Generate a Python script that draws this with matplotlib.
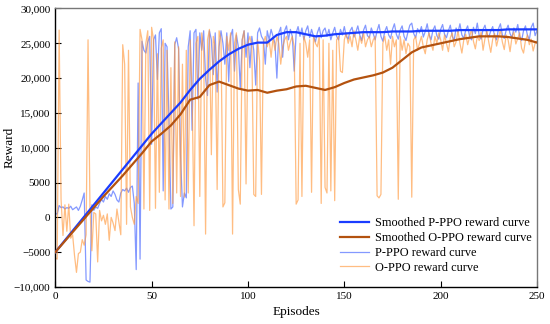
import matplotlib
matplotlib.use("Agg")
import matplotlib.pyplot as plt
from matplotlib.ticker import FuncFormatter
import numpy as np

plt.rcParams['font.family'] = ['Liberation Serif', 'DejaVu Serif']

# ---- data (values in thousands of reward) ----
episodes = list(range(0, 251))
smooth_episodes = list(range(0, 251, 5))

p_raw_k = [
    0.5, 0.5, 1.7, 1.4, 1.5, 1.2, 1.4, 1.3, 1.6, 1.1, 1.3, 1.5, 1.0, 1.6, 2.5, 3.5, -9.0, -9.2, -9.3, 1.8,
    1.0, 1.5, 1.3, 2.0, 2.6, 2.2, 3.0, 2.6, 3.4, 3.0, 3.8, 3.3, 2.5, 2.2, 3.5, 4.0, 3.8, 4.2, 3.6, 4.3,
    4.5, 2.0, -7.5, 19.3, -6.0, 25.3, 24.0, 23.6, 25.2, 26.0, 10.5, 25.5, 26.2, 19.8, 26.5, 27.1, 3.8, 25.0, 24.5, 14.0,
    1.2, 1.5, 24.8, 25.8, 24.2, 9.0, 1.5, 3.5, 2.8, 24.5, 26.8, 12.5, 26.5, 27.0, 17.0, 26.5, 24.0, 26.8, 20.0, 17.5,
    26.8, 25.5, 20.5, 26.5, 18.0, 24.5, 26.8, 25.0, 22.0, 26.5, 19.5, 26.0, 27.0, 21.0, 26.2, 24.5, 18.5, 25.5, 26.8, 23.0,
    26.5, 21.5, 26.0, 24.0, 19.0, 26.5, 27.2, 26.0, 25.5, 22.0, 26.8, 25.5, 27.0, 26.0, 25.0, 20.0, 26.5, 27.3, 23.0, 26.8,
    27.5, 25.5, 27.0, 26.0, 21.0, 26.5, 27.4, 26.0, 27.2, 25.5, 26.8, 27.5, 25.8, 27.0, 26.0, 25.2, 26.5, 27.3, 25.8, 26.8,
    27.2, 26.0, 27.0, 25.5, 26.5, 27.3, 26.0, 25.5, 27.0, 26.2, 27.4, 26.0, 25.6, 26.8, 27.3, 25.9, 26.6, 27.5, 26.2, 25.4,
    26.9, 27.6, 26.1, 25.8, 27.2, 26.4, 25.5, 26.8, 27.7, 26.0, 25.3, 26.7, 27.4, 26.2, 25.7, 27.0, 27.8, 26.3, 25.6, 26.9,
    27.5, 26.0, 25.4, 26.6, 27.6, 27.9, 26.4, 25.8, 27.1, 26.5, 27.4, 25.9, 26.7, 27.8, 26.2, 25.5, 26.9, 27.5, 26.1, 25.6,
    27.0, 27.7, 26.3, 25.8, 26.8, 27.6, 26.0, 25.4, 27.2, 26.6, 27.8, 26.2, 25.7, 26.9, 27.5, 26.0, 25.5, 27.3, 26.4, 27.9,
    26.1, 25.6, 27.0, 27.6, 26.3, 25.9, 26.8, 27.4, 26.0, 25.5, 27.1, 27.8, 26.2, 25.7, 26.9, 27.6, 26.4, 25.8, 27.2, 26.6,
    27.7, 26.0, 25.4, 26.8, 27.5, 26.2, 25.5, 27.3, 27.9, 26.1, 26.8,
]

o_raw_k = [
    -5.8, -6.0, 26.9, 2.6, -2.6, 1.8, -2.0, 1.9, -3.0, -2.5, -5.5, -7.9, -5.2, -5.0, -3.2, -4.0, -2.5, 25.5, 1.5, -4.8,
    0.7, 0.5, -6.4, 1.0, -0.5, 0.3, -1.0, 0.5, -3.3, 0.0, -0.8, -1.9, 1.2, -0.7, -2.5, 24.8, 22.0, -1.0, 24.0, 1.5,
    0.0, -1.0, 3.0, 2.0, 27.0, 25.5, 1.2, 25.0, 26.8, 1.0, 27.3, 25.5, 1.3, 23.5, 3.6, 24.3, 25.5, 2.5, 24.0, 1.2,
    21.5, 2.0, 25.2, 3.5, 24.5, 3.0, 22.0, 2.9, 24.0, 3.5, 25.5, 18.0, -1.2, 25.0, 26.0, 3.0, 26.5, 24.0, -2.4, 25.5,
    27.0, 9.0, 26.0, 24.5, 4.0, 26.8, 25.5, 1.5, 2.1, 26.0, 24.0, 26.5, -2.4, 25.0, 26.5, 4.0, 1.9, 25.5, 26.8, 4.8,
    25.0, 26.0, 24.5, 3.3, 3.0, 25.5, 22.5, 3.3, 25.0, 26.0, 24.5, 25.5, 23.0, 25.8, 24.0, 26.0, 25.0, 22.0, 24.5, 25.5,
    26.0, 24.0, 25.2, 26.0, 24.5, 1.9, 2.5, 25.0, 3.0, 26.0, 25.0, 23.0, 25.5, 3.6, 26.0, 25.0, 24.5, 26.0, 2.0, 25.5,
    4.3, 3.5, 25.0, 3.8, 24.0, 2.4, 25.5, 26.0, 21.0, 20.8, 25.5, 26.5, 25.0, 26.0, 24.5, 26.8, 25.5, 24.0, 26.0, 25.0,
    26.5, 24.5, 25.5, 26.0, 24.5, 25.5, 26.0, 3.1, 2.8, 3.3, 25.0, 26.0, 24.0, 25.5, 22.0, 26.0, 24.5, 25.5, 2.6, 26.0,
    24.0, 25.5, 23.5, 25.0, 24.5, 2.9, 25.5, 26.0, 24.0, 25.0, 26.0, 24.5, 23.5, 25.5, 26.5, 25.0, 24.0, 26.0, 25.0, 26.5,
    25.5, 24.0, 26.2, 25.0, 23.8, 25.8, 26.5, 24.5, 25.2, 26.8, 25.0, 23.6, 25.5, 26.3, 24.8, 25.9, 27.0, 25.3, 24.2, 26.0,
    25.4, 26.6, 24.0, 25.7, 26.8, 25.1, 23.7, 25.6, 26.4, 24.6, 25.8, 26.9, 25.2, 24.1, 26.2, 25.5, 23.8, 25.9, 26.6, 24.9,
    25.7, 26.5, 24.3, 23.6, 25.4, 26.2, 24.8, 25.6, 23.9, 25.0, 25.3,
]

p_smooth_k = [
    -5.0, -3.3, -1.6, 0.1, 1.8, 3.5, 5.2, 6.9, 8.6, 10.3,
    12.0, 13.5, 15.0, 16.5, 18.3, 19.9, 21.2, 22.4, 23.4, 24.2,
    24.8, 25.1, 25.1, 26.2, 26.6, 26.6, 26.3, 26.0, 26.1, 26.3,
    26.4, 26.5, 26.6, 26.6, 26.6, 26.7, 26.7, 26.7, 26.8, 26.8,
    26.8, 26.8, 26.9, 26.9, 26.9, 26.9, 26.9, 27.0, 27.0, 27.0, 27.0,
]

o_smooth_k = [
    -5.0, -3.4, -1.8, -0.2, 1.4, 3.0, 4.5, 6.0, 7.6, 9.2,
    10.9, 12.0, 13.2, 14.8, 16.9, 17.3, 19.0, 19.5, 19.0, 18.5,
    18.2, 18.3, 17.9, 18.2, 18.4, 18.8, 18.9, 18.6, 18.3, 18.7,
    19.3, 19.8, 20.1, 20.4, 20.8, 21.5, 22.6, 23.7, 24.4, 24.7,
    25.0, 25.3, 25.6, 25.8, 26.0, 26.0, 26.0, 25.9, 25.7, 25.5, 25.1,
]

labels = ["Smoothed P-PPO reward curve", "Smoothed O-PPO reward curve",
          "P-PPO reward curve", "O-PPO reward curve"]
x_ticks = [0, 50, 100, 150, 200, 250]
y_ticks = [-10000, -5000, 0, 5000, 10000, 15000, 20000, 25000, 30000]

# ---- plot ----
fig = plt.figure(figsize=(5.5, 3.24), dpi=100)
ax = fig.add_axes([0.1005, 0.1142, 0.8759, 0.8596])

p_raw = np.array(p_raw_k) * 1000
o_raw = np.array(o_raw_k) * 1000
p_sm = np.array(p_smooth_k) * 1000
o_sm = np.array(o_smooth_k) * 1000

l3, = ax.plot(episodes, p_raw, color='#4262ff', alpha=0.65, lw=0.9, zorder=1, label=labels[2])
l4, = ax.plot(episodes, o_raw, color='#ff9a40', alpha=0.65, lw=0.9, zorder=2, label=labels[3])
l1, = ax.plot(smooth_episodes, p_sm, color='#1a3cff', lw=1.6, zorder=3, label=labels[0])
l2, = ax.plot(smooth_episodes, o_sm, color='#b3520f', lw=1.6, zorder=4, label=labels[1])

ax.set_xlim(0, 250)
ax.set_ylim(-10000, 30000)
ax.set_xticks(x_ticks)
ax.set_yticks(y_ticks)

def fmt(v, pos):
    v = int(round(v))
    s = f"{abs(v):,}" if abs(v) >= 10000 else f"{abs(v)}"
    return ("\u2212" + s) if v < 0 else s

ax.yaxis.set_major_formatter(FuncFormatter(fmt))
ax.tick_params(direction='in', length=4, width=0.8, labelsize=8, colors='black')
ax.tick_params(top=False, right=False)
for side in ['top', 'right']:
    ax.spines[side].set_color('#777777')
    ax.spines[side].set_linewidth(1.0)
for side in ['left', 'bottom']:
    ax.spines[side].set_color('black')
    ax.spines[side].set_linewidth(1.0)

ax.set_xlabel("Episodes", fontsize=9.5, labelpad=3.5)
ax.set_ylabel("Reward", fontsize=9.5)
ax.yaxis.set_label_coords(-0.083, 0.5)

leg = ax.legend(handles=[l1, l2, l3, l4], loc='lower right', frameon=False,
                fontsize=8.8, handlelength=2.4, handletextpad=0.5,
                labelspacing=0.24, borderaxespad=0.0,
                bbox_to_anchor=(1.0, 0.03))
for lh in leg.get_lines()[2:]:
    lh.set_alpha(0.65)

fig.savefig("out.png", dpi=100)
